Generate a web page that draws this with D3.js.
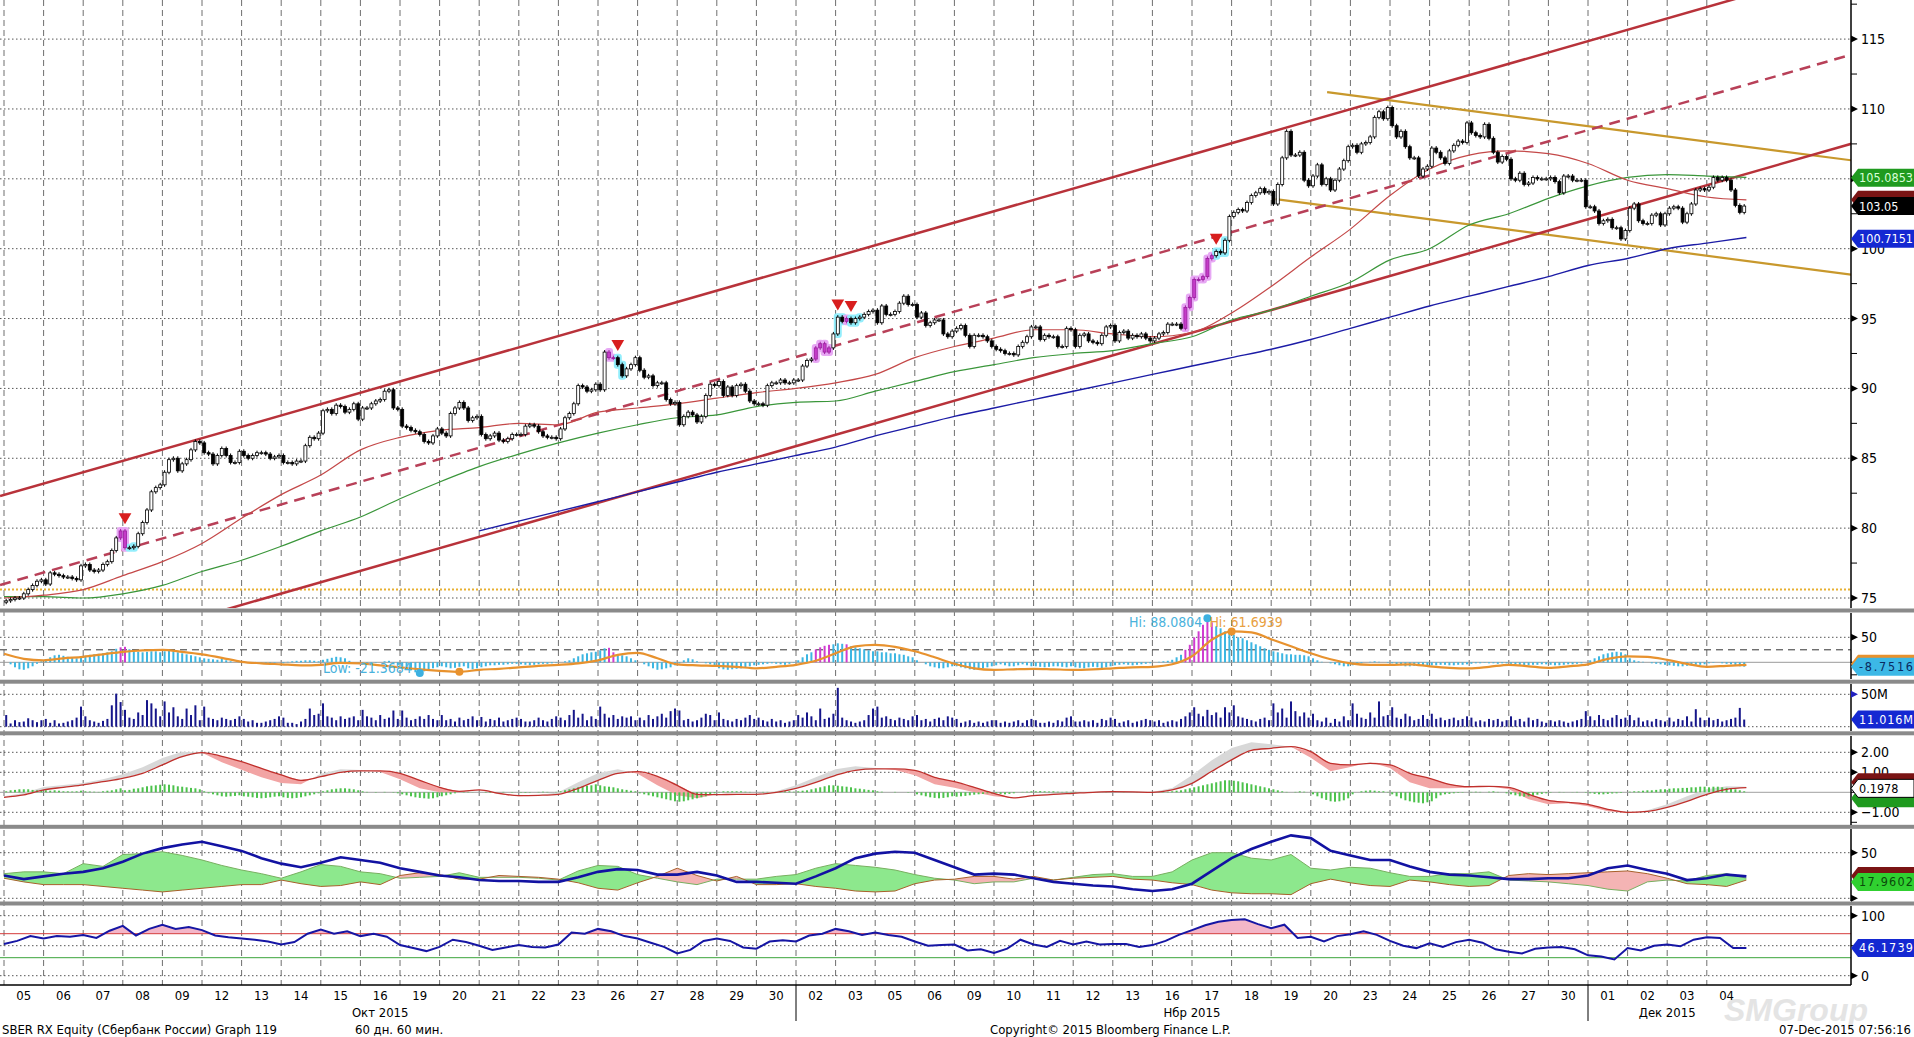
<!DOCTYPE html>
<html>
<head>
<meta charset="utf-8">
<script src="https://cdn.jsdelivr.net/npm/d3@7"></script>
<style>
  body { margin: 0; background: #fff; }
  svg { display: block; }
  text { font-family: "Liberation Sans Narrow", "DejaVu Sans Condensed", sans-serif; }
  .ax { font-family: "Liberation Sans", "DejaVu Sans", sans-serif; font-size: 14px; }
  .tag { font-family: "Liberation Sans", "DejaVu Sans", sans-serif; font-size: 12.5px; }
</style>
</head>
<body>
<svg id="chart" width="1914" height="1037"></svg>
<script>
// ---- data ----
const dayNames = ["05","06","07","08","09","12","13","14","15","16","19","20","21","22","23","26","27","28","29","30",
  "02","03","05","06","09","10","11","12","13","16","17","18","19","20","23","24","25","26","27","30",
  "01","02","03","04"];
const monthNames = ["Окт 2015", "Нбр 2015", "Дек 2015"];
const monthMid = [9.5, 30, 42];          // in trading days
const monthBreaks = [20, 40];
const footer = ["SBER RX Equity (Сбербанк России) Graph 119", "60 дн. 60 мин.", "Copyright© 2015 Bloomberg Finance L.P.", "07-Dec-2015 07:56:16"];

// hourly closes, 9 bars per trading day
const firstOpen = 74.7;
const closeByDay = [
  [74.8,74.9,75.0,75.0,75.3,75.6,75.9,76.2,76.3],
  [76.0,76.8,76.7,76.6,76.5,76.5,76.4,76.3,77.3],
  [77.4,77.0,76.9,77.0,77.4,77.6,78.4,79.3,79.8],
  [78.6,78.6,78.7,79.6,80.4,81.3,82.6,82.9,83.1],
  [84.0,84.9,85.0,84.1,84.6,84.9,85.6,86.2,86.1],
  [85.4,85.3,84.6,85.2,85.7,85.2,84.7,84.7,85.5],
  [85.2,85.0,85.2,85.4,85.4,85.3,85.0,85.1,85.2],
  [84.7,84.7,84.6,84.8,84.8,85.9,86.5,86.4,86.8],
  [88.4,88.5,88.2,88.8,88.7,88.3,88.5,88.9,87.8],
  [88.6,88.6,88.9,89.1,89.2,89.8,89.9,88.6,88.5],
  [87.3,87.2,87.0,86.9,86.7,86.2,86.1,86.6,87.1],
  [86.8,86.6,88.2,88.6,89.0,88.6,87.7,87.9,88.0],
  [86.7,86.4,86.6,86.8,86.3,86.2,86.4,86.7,86.7],
  [86.7,87.3,87.4,87.3,86.9,86.6,86.5,86.5,86.4],
  [87.1,87.9,88.2,88.9,90.2,90.1,89.8,89.9,90.3],
  [89.9,92.6,92.2,92.2,91.7,90.9,91.4,91.7,92.2],
  [91.3,90.8,90.9,90.2,90.4,90.4,89.2,88.9,89.0],
  [87.4,88.0,88.3,88.1,87.6,88.0,89.5,90.3,90.2],
  [90.5,89.5,90.1,89.5,90.2,90.3,89.8,89.1,88.9],
  [88.9,88.8,90.2,90.4,90.4,90.6,90.4,90.4,90.6],
  [90.6,91.6,92.0,92.1,92.9,93.2,92.6,92.9,93.9],
  [95.1,94.8,95.0,94.7,95.0,95.1,95.3,95.5,95.6],
  [94.7,95.9,95.3,95.3,95.5,96.1,96.6,96.0,96.0],
  [95.1,95.4,94.5,94.7,94.9,94.9,93.9,93.7,94.1],
  [94.3,94.5,93.8,93.0,93.8,93.8,93.7,93.4,93.0],
  [92.8,92.7,92.5,92.5,92.4,93.0,93.3,93.7,94.4],
  [94.4,93.5,93.8,93.7,93.7,93.0,93.0,94.3,94.2],
  [93.0,93.8,93.9,93.4,93.3,93.2,93.8,94.4,94.5],
  [93.4,94.0,94.1,93.6,93.8,93.7,93.9,93.6,93.4],
  [93.6,93.9,94.0,94.6,94.6,94.6,94.3,95.8,96.5],
  [97.8,97.8,98.0,99.3,99.5,99.8,99.7,100.6,102.3],
  [102.6,102.8,102.7,103.3,103.8,104.0,104.3,104.0,104.1],
  [103.2,104.6,106.5,108.4,106.7,106.7,106.9,104.9,104.5],
  [105.2,106.0,104.6,105.0,104.2,104.9,105.7,106.3,107.3],
  [107.4,106.9,107.5,107.6,108.0,109.4,109.8,109.3,110.1],
  [108.8,108.0,108.4,107.3,106.5,106.5,105.2,105.7,105.9],
  [107.2,106.9,106.5,106.1,107.0,107.4,107.7,107.6,109.0],
  [108.3,108.1,108.0,108.9,107.9,106.9,106.2,106.6,106.4],
  [105.0,104.9,105.4,104.6,104.7,105.1,105.0,105.0,105.0],
  [105.1,104.8,104.0,105.2,105.2,104.9,104.9,104.9,103.0],
  [103.0,102.7,101.8,102.0,102.1,101.5,101.5,100.7,101.3],
  [102.9,103.2,102.0,101.8,101.8,102.4,102.5,101.7,102.5],
  [102.9,103.0,102.9,101.9,102.5,103.2,104.2,104.3,104.2],
  [104.4,105.1,104.9,105.1,104.9,104.2,103.1,102.6,103.05]
];

// moving averages, one value per day boundary (45 points)
const maRed = [75.0,75.2,75.6,76.6,77.6,78.9,80.7,82.4,83.8,85.6,86.5,87.0,87.2,87.5,87.4,88.3,88.6,88.9,89.3,89.7,
  90.0,90.4,91.0,92.2,93.0,93.6,94.2,94.2,93.9,93.7,94.0,95.4,97.3,99.4,101.4,103.8,105.7,106.7,107.0,106.8,
  106.1,104.9,104.3,103.7,103.5];
const maGreen = [75.1,75.1,75.0,75.3,75.9,76.9,77.7,78.7,79.8,80.8,82.1,83.3,84.4,85.3,86.1,86.8,87.4,87.9,88.1,88.7,
  89.0,89.1,89.8,90.5,91.2,91.7,92.2,92.5,92.7,93.2,93.7,94.9,95.6,96.6,97.6,99.2,100.0,101.7,102.5,103.6,
  104.5,105.1,105.3,105.2,105.1];
const maBlue = [null,null,null,null,null,null,null,null,null,null,null,null,79.8,80.5,81.2,81.9,82.6,83.3,84.0,84.6,
  85.2,85.8,86.6,87.3,88.0,88.6,89.2,89.8,90.4,91.0,91.6,92.2,92.8,93.5,94.3,95.1,95.9,96.6,97.3,98.0,
  98.8,99.3,100.0,100.4,100.8];

// trend lines: [bar index, price] anchors
const channelUpper = [[-0.9, 82.3], [420, 120.27]];
const channelMid = [[-0.9, 75.93], [420, 113.9]];
const channelLower = [[-0.9, 69.55], [420, 107.52]];
const goldUpper = [[300.7, 111.2], [420, 106.32]];
const goldLower = [[289, 103.55], [420, 98.13]];
const yellowLevel = 75.6;

// highlighted bars
const purpleBars = [26, 27, 137, 138, 184, 185, 186, 187, 191, 268, 269, 270, 271, 272, 273, 274];
const cyanBars = [28, 29, 139, 140, 189, 190, 192, 193, 194, 275, 276, 277];
const signalBars = [27, 139, 189, 192, 275];

// volume (M), 9 per day
const volByDay = [
  [18,5,10,7,8,13,10,7,10],[12,6,10,5,6,8,10,14,31],[16,10,8,6,9,12,33,51,38],[26,14,12,22,18,41,36,28,16],
  [39,22,30,16,12,28,18,33,10],[31,14,12,10,14,12,10,12,16],[12,8,10,6,6,8,10,12,16],[14,6,6,4,8,12,28,18,20],
  [36,16,14,10,16,12,14,16,10],[26,16,14,10,18,12,14,25,12],[25,14,10,12,16,12,18,12,10],[18,10,12,8,14,10,12,16,10],
  [15,8,12,10,14,8,10,12,14],[12,8,8,10,14,10,8,12,16],[14,10,18,26,14,20,10,16,12],[31,20,14,18,12,16,14,16,10],
  [14,10,18,12,16,20,14,24,28],[25,10,12,8,10,14,20,18,10],[22,12,10,8,12,10,14,18,12],[14,10,8,12,8,10,6,8,10],
  [18,14,22,16,10,28,12,14,20],[60,14,10,8,6,8,10,18,28],[31,14,16,12,10,14,12,10,16],[18,10,12,8,12,14,10,16,14],
  [12,6,8,10,6,8,6,8,10],[10,6,8,6,8,10,6,10,12],[10,6,6,8,6,10,8,14,16],[8,8,10,8,10,6,12,10,14],
  [12,6,8,10,6,8,10,12,10],[8,10,6,8,10,8,12,16,22],[30,20,16,26,18,22,14,30,22],[33,16,14,12,10,8,12,14,10],
  [36,22,28,14,39,24,16,22,14],[20,10,8,14,6,12,8,16,10],[36,20,14,12,22,14,39,16,18],[30,14,12,20,16,10,12,18,12],
  [20,12,14,10,12,14,10,12,16],[14,8,10,8,12,10,12,8,10],[16,10,12,8,14,10,12,8,6],[10,8,10,8,6,8,10,12,24],
  [16,10,18,12,10,14,18,12,14],[18,10,14,8,10,8,12,10,8],[14,8,12,10,16,8,27,14,10],[14,10,12,8,10,12,14,29,11]
];

// oscillator histogram, 9 per day
const oscHistByDay = [
  [0,-4,-10,-14,-15,-12,-8,-3,2],[6,10,14,15,13,11,9,8,11],[13,15,16,17,18,20,22,27,30],[31,26,22,21,20,21,22,22,20],
  [22,24,22,20,18,16,14,12,10],[8,7,6,5,8,4,2,0,1],[0,-1,0,-1,-1,-2,-2,-1,0],[-2,1,2,3,3,4,4,3,2],
  [5,7,9,11,10,8,3,0,-2],[-2,-3,-2,-1,0,2,3,-2,-5],[-8,-12,-16,-20,-21.37,-18,-14,-12,-10],[-8,-10,-12,-11,-9,-8,-12,-14,-12],
  [-10,-8,-6,-6,-5,-5,-4,-3,-3],[-4,-5,-6,-5,-4,-3,-3,-2,-1],[0,2,4,8,12,16,18,20,21],[24,28,29,20,16,14,12,8,4],
  [0,-4,-8,-12,-15,-14,-12,-10,-6],[-2,4,8,6,2,0,-2,-4,-8],[-12,-14,-15,-14,-13,-12,-10,-8,-6],[-5,-4,-3,-2,-3,-4,-5,-3,-1],
  [4,10,16,20,26,30,33,35,36],[38,37,36,32,30,28,26,24,22],[22,20,20,18,18,16,15,12,10],[4,0,-4,-8,-10,-12,-12,-10,-8],
  [-8,-10,-12,-14,-15,-14,-12,-10,-8],[-6,-4,-6,-8,-8,-6,-4,-6,-8],[-8,-9,-10,-9,-8,-8,-9,-10,-8],[-10,-11,-12,-10,-9,-10,-12,-10,-8],
  [-6,-5,-4,-5,-6,-5,-4,-3,-2],[0,1,2,3,5,10,15,25,35],[50,62,75,88.08,80,72,68,62,58],[55,50,48,44,40,36,32,28,25],
  [22,20,18,16,16,15,15,14,12],[8,4,1,0,-2,-4,-6,-8,-8],[-6,-4,-2,0,1,2,1,0,-1],[-2,-4,-6,-8,-8,-7,-6,-6,-7],
  [-6,-6,-5,-5,-6,-6,-5,-5,-4],[-3,-2,-2,-1,-2,-2,-3,-2,-2],[-3,-4,-5,-6,-6,-5,-5,-4,-4],[-5,-6,-6,-5,-4,-4,-3,-2,0],
  [4,8,12,16,18,20,21,20,16],[8,4,2,1,0,-2,-3,-4,-5],[-6,-7,-8,-8,-7,-6,-5,-5,-4],[-2,-1,0,-2,-3,-4,-6,-8,-8.75]
];
// oscillator signal line, 2 per day (89 points)
const oscLine = [17,7,4,8,11,16,21,24,25,21,16,9,1,-2,-4,-6,-5,-1,-2,-6,-10,-14,-17,-19,-15,-13,-10,-7,-5,-2,
  4,15,19,8,-4,-6,-7,-9,-12,-9,-5,3,18,32,35,31,22,10,-3,-12,-15,-14,-13,-14,-15,-14,-12,-10,-9,-4,
  12,45,61.69,60,46,32,18,6,-2,-5,-5,-4,-8,-11,-12,-9,-5,-8,-11,-8,-4,7,12,11,5,-3,-9,-7,-5];

// MACD: histogram 9 per day, lines 2 per day
const macdHistByDay = [
  [0.05,0.1,0.12,0.15,0.15,0.15,0.12,0.1,0.1],[0.1,0.08,0.1,0.08,0.05,0.05,0.04,0.05,0.08],
  [0.05,0.04,0.03,0.02,0.05,0.08,0.1,0.15,0.2],[0.1,0.12,0.18,0.2,0.25,0.3,0.33,0.35,0.38],
  [0.4,0.38,0.35,0.3,0.28,0.25,0.22,0.2,0.15],[0.05,-0.05,-0.1,-0.15,-0.2,-0.22,-0.2,-0.18,-0.15],
  [-0.2,-0.22,-0.25,-0.28,-0.3,-0.28,-0.25,-0.22,-0.2],[-0.25,-0.28,-0.3,-0.28,-0.25,-0.2,-0.15,-0.1,-0.05],
  [0.05,0.1,0.15,0.18,0.2,0.2,0.18,0.15,0.1],[0.05,0.02,0,-0.02,0,0.02,0,-0.02,-0.05],
  [-0.1,-0.15,-0.2,-0.25,-0.28,-0.3,-0.32,-0.3,-0.25],[-0.2,-0.15,-0.1,-0.05,0,0.02,0.02,0.01,0],
  [0,-0.02,-0.03,-0.02,0,0.02,0,-0.02,0],[-0.02,-0.03,-0.02,0,0.02,0.03,0.02,0,0.02],
  [0.05,0.1,0.15,0.2,0.25,0.3,0.33,0.35,0.4],[0.35,0.3,0.28,0.25,0.2,0.15,0.12,0.08,0.05],
  [-0.05,-0.1,-0.15,-0.2,-0.25,-0.3,-0.35,-0.4,-0.45],[-0.47,-0.45,-0.4,-0.35,-0.3,-0.25,-0.2,-0.1,-0.05],
  [0.02,0.05,0.05,0.05,0.05,0.05,0.03,0.02,0],[0,0.02,0.02,0,0.02,0.05,0.05,0.05,0.03],
  [0.05,0.08,0.1,0.15,0.2,0.25,0.3,0.35,0.35],[0.33,0.3,0.28,0.25,0.2,0.18,0.15,0.12,0.1],
  [0.05,0.03,0,0,0.02,0,0,-0.02,0],[-0.1,-0.15,-0.2,-0.25,-0.28,-0.3,-0.28,-0.25,-0.2],
  [-0.22,-0.2,-0.18,-0.15,-0.12,-0.1,-0.08,-0.05,-0.05],[-0.05,-0.08,-0.1,-0.08,-0.05,0,0.02,0.03,0.05],
  [0.05,0.06,0.05,0.04,0.05,0.03,0.02,0.03,0.02],[0.02,0.01,0,0.01,0,-0.01,0,0.01,0],
  [0,0,0.01,0,0,-0.01,0,0,0.01],[0,0.01,0.02,0.03,0.05,0.08,0.1,0.15,0.2],
  [0.25,0.3,0.35,0.4,0.45,0.5,0.55,0.6,0.6],[0.58,0.55,0.5,0.45,0.4,0.35,0.3,0.25,0.2],
  [0.15,0.1,0.05,0.02,0,0.02,0.05,0.03,0],[-0.1,-0.2,-0.3,-0.38,-0.45,-0.47,-0.45,-0.4,-0.3],
  [-0.1,0,0.05,0.08,0.1,0.08,0.05,0.05,0.02],[-0.1,-0.2,-0.3,-0.4,-0.45,-0.5,-0.52,-0.55,-0.5],
  [-0.45,-0.3,-0.15,-0.1,-0.08,-0.05,-0.03,-0.02,0],[0.02,0.03,0.02,0,0.03,0.05,0.02,0,-0.05],
  [-0.1,-0.15,-0.2,-0.22,-0.2,-0.18,-0.12,-0.08,-0.05],[-0.02,0,0.02,0.01,0,0.01,0.02,0,-0.02],
  [-0.05,-0.08,-0.1,-0.1,-0.08,-0.06,-0.05,-0.03,0],[0.03,0.05,0.05,0.08,0.1,0.1,0.12,0.15,0.15],
  [0.18,0.2,0.2,0.22,0.22,0.25,0.25,0.28,0.28],[0.25,0.28,0.28,0.25,0.22,0.2,0.15,0.1,0.05]
];
const macdSignal = [-0.25,-0.13,0.12,0.25,0.37,0.53,0.7,0.95,1.37,1.78,1.98,1.8,1.53,1.2,0.87,0.6,0.78,1.0,1.07,1.07,
  0.95,0.6,0.25,0.05,0.12,-0.05,-0.17,-0.15,-0.1,0.2,0.6,0.95,1.03,0.8,0.35,-0.1,-0.12,-0.1,-0.1,0.0,
  0.2,0.5,0.85,1.1,1.17,1.17,1.1,0.75,0.53,0.25,-0.05,-0.28,-0.17,-0.1,-0.05,0.0,0.03,0.02,0.0,0.12,
  0.45,1.05,1.62,2.1,2.2,2.28,2.03,1.45,1.37,1.45,1.37,0.95,0.7,0.4,0.28,0.3,0.25,-0.1,-0.4,-0.5,
  -0.6,-0.85,-1.0,-0.95,-0.75,-0.45,-0.1,0.15,0.23];
const macdLine = [-0.2,-0.03,0.27,0.37,0.47,0.65,0.9,1.25,1.72,2.03,1.98,1.5,1.13,0.75,0.47,0.4,0.93,1.15,1.12,1.02,
  0.65,0.2,0.0,0.0,0.12,-0.1,-0.2,-0.15,0.0,0.5,0.95,1.15,0.93,0.35,-0.15,-0.3,-0.1,-0.1,-0.08,0.05,
  0.35,0.75,1.15,1.3,1.22,1.12,0.85,0.4,0.23,0.0,-0.2,-0.28,-0.12,-0.05,-0.03,0.0,0.03,0.02,0.02,0.22,
  0.85,1.6,2.22,2.5,2.4,2.28,1.73,1.05,1.27,1.5,1.22,0.5,0.2,0.2,0.23,0.3,0.15,-0.35,-0.6,-0.55,
  -0.7,-0.95,-1.05,-0.9,-0.6,-0.2,0.15,0.3,0.28];

// DMI, 2 per day
const adx = [25,21,24,27,29,33,40,49,55,59,62,57,52,44,38,34,39,45,42,39,33,29,25,23,20,
  19,19,18,18,23,29,32,31,26,26,29,25,18,18,17,16,24,33,44,49,51,50,42,34,
  26,27,26,22,18,16,14,13,10,8,10,16,30,44,54,62,69,66,52,47,42,42,35,
  29,26,25,23,21,21,22,22,25,33,36,31,27,20,22,26,24];
const pdi = [27,29,29,27,38,35,48,49,51,47,42,36,31,27,22,29,37,35,29,27,22,23,24,28,23,
  23,23,22,20,30,36,35,26,22,18,15,21,21,21,24,26,33,38,36,34,31,26,22,20,
  16,18,18,22,20,23,26,27,24,24,29,42,50,50,44,42,48,33,31,34,33,28,24,
  24,27,27,29,20,19,18,16,14,10,8,18,20,19,25,27,22];
const mdi = [22,18,15,15,15,13,11,9,7,9,11,13,15,15,20,16,13,14,18,15,25,28,26,21,21,
  25,24,23,21,17,11,9,17,24,33,25,19,24,15,15,16,13,11,8,7,8,16,20,21,
  24,24,21,24,20,22,23,24,21,20,17,15,9,6,5,5,4,16,21,17,14,13,20,
  18,15,13,14,25,27,26,27,28,29,30,27,22,16,15,13,20];

// RSI, 3 per day (133 points)
const rsi = [53,58,66,62,66,65,68,63,75,83,67,78,85,78,81,76,67,64,62,60,57,52,56,70,77,70,74,66,70,65,51,46,41,48,60,56,50,
  43,47,51,48,47,52,72,70,78,74,66,62,55,48,37,43,58,62,58,47,45,57,59,57,67,70,78,74,68,72,68,65,57,50,51,
  52,42,44,38,45,60,52,48,58,52,57,52,53,53,48,51,58,68,76,84,90,93,94,86,79,85,63,65,57,66,69,74,68,58,50,46,
  54,48,56,60,55,44,40,37,45,47,48,44,34,32,27,46,42,50,52,49,60,64,63,46,46];

// right-hand value tags: panel, value, label, style
const tags = [
  ["main", 105.0853, "105.0853", "green"], ["main", 103.5, "", "darkred"], ["main", 103.05, "103.05", "black"],
  ["main", 100.7151, "100.7151", "blue"],
  ["osc", -3, "", "orange"], ["osc", -8.7516, "-8.7516", "cyan"],
  ["vol", 11.016, "11.016M", "blue"],
  ["macd", -0.3, "", "green"], ["macd", 0.5, "", "darkred"], ["macd", 0.1978, "0.1978", "white"],
  ["dmi", 24.5, "", "darkred"], ["dmi", 17.9602, "17.9602", "lime"],
  ["rsi", 46.1739, "46.1739", "blue"]
];
const oscHiText = "Hi: 88.0804", oscLineHiText = "Hi: 61.6939", oscLowText = "Low: -21.3684";

// ---- layout ----
const W = 1914, AXIS_X = 1851;
const svg = d3.select("#chart");
const defs = svg.append("defs");

const closes = closeByDay.flat();
const volume = volByDay.flat();
const oscHist = oscHistByDay.flat();
const macdHist = macdHistByDay.flat();

const x = d3.scaleLinear().domain([0, 396]).range([4, 4 + 396 * 4.4]);
const barX = k => x(k + 0.5);

const yMain = d3.scaleLinear().domain([75, 115]).range([598, 39.1]);
const yOsc = d3.scaleLinear().domain([0, 50]).range([662.3, 637.3]);
const yVol = d3.scaleLinear().domain([0, 50]).range([726.7, 694.3]);
const yMacd = d3.scaleLinear().domain([0, 2]).range([792.3, 752.3]);
const yDmi = d3.scaleLinear().domain([0, 50]).range([898.3, 852.7]);
const yRsi = d3.scaleLinear().domain([0, 100]).range([975.7, 915.7]);

const panels = {
  main: { top: 0, bottom: 608, y: yMain },
  osc: { top: 613, bottom: 679, y: yOsc },
  vol: { top: 684, bottom: 731, y: yVol },
  macd: { top: 736, bottom: 825, y: yMacd },
  dmi: { top: 829, bottom: 901, y: yDmi },
  rsi: { top: 906, bottom: 985, y: yRsi }
};

// watermark sits underneath everything
svg.append("text").attr("x", 1724).attr("y", 1021)
  .style("font-family", "Liberation Sans, sans-serif").style("font-size", "32px").style("font-style", "italic")
  .style("font-weight", "bold").attr("fill", "#e4e4e4").text("SMGroup");

// vertical day grid
const gridG = svg.append("g");
d3.range(0, 44).forEach(i => {
  gridG.append("line").attr("x1", x(9 * i)).attr("x2", x(9 * i)).attr("y1", 0).attr("y2", 985)
    .attr("stroke", "#6e6e6e").attr("stroke-dasharray", "6,4");
});

const layers = {};
Object.entries(panels).forEach(([name, p]) => {
  defs.append("clipPath").attr("id", "clip-" + name)
    .append("rect").attr("x", 0).attr("y", p.top).attr("width", AXIS_X).attr("height", p.bottom - p.top);
  layers[name] = svg.append("g").attr("clip-path", `url(#clip-${name})`);
});

function hLine(g, y, stroke, dash, width) {
  g.append("line").attr("x1", 0).attr("x2", AXIS_X).attr("y1", y).attr("y2", y)
    .attr("stroke", stroke).attr("stroke-width", width || 1).attr("stroke-dasharray", dash || null);
}
const DOT = "1.5,2.5";

// ---- main panel ----
const gm = layers.main;
d3.range(75, 116, 5).forEach(v => hLine(gm, yMain(v), "#555", DOT));
hLine(gm, yMain(yellowLevel), "#e8b030", "2,2", 2);

const trend = d3.line().x(d => x(d[0])).y(d => yMain(d[1]));
gm.append("path").attr("d", trend(goldUpper)).attr("stroke", "#c8982c").attr("stroke-width", 2.2).attr("fill", "none");
gm.append("path").attr("d", trend(goldLower)).attr("stroke", "#c8982c").attr("stroke-width", 2.2).attr("fill", "none");
gm.append("path").attr("d", trend(channelUpper)).attr("stroke", "#b8323a").attr("stroke-width", 2.5).attr("fill", "none");
gm.append("path").attr("d", trend(channelLower)).attr("stroke", "#b8323a").attr("stroke-width", 2.5).attr("fill", "none");
gm.append("path").attr("d", trend(channelMid)).attr("stroke", "#b84058").attr("stroke-width", 2.5)
  .attr("stroke-dasharray", "11,7").attr("fill", "none");

const maLine = d3.line().defined(d => d != null).x((d, i) => x(9 * i)).y(d => yMain(d)).curve(d3.curveMonotoneX);
gm.append("path").attr("d", maLine(maBlue)).attr("stroke", "#1c1ca6").attr("stroke-width", 1.4).attr("fill", "none");
gm.append("path").attr("d", maLine(maGreen)).attr("stroke", "#3a963a").attr("stroke-width", 1.2).attr("fill", "none");
gm.append("path").attr("d", maLine(maRed)).attr("stroke", "#c44848").attr("stroke-width", 1.2).attr("fill", "none");

const bars = closes.map((c, k) => {
  const o = k ? closes[k - 1] : firstOpen;
  return { k, o, c, hi: Math.max(o, c), lo: Math.min(o, c) };
});
const purpleSet = new Set(purpleBars), cyanSet = new Set(cyanBars);

// glow behind highlighted candles
gm.selectAll("rect.glow").data(bars.filter(b => purpleSet.has(b.k) || cyanSet.has(b.k))).join("rect")
  .attr("x", b => barX(b.k) - 4).attr("width", 8)
  .attr("y", b => yMain(b.hi) - 4).attr("height", b => yMain(b.lo) - yMain(b.hi) + 8)
  .attr("rx", 3).attr("fill", b => purpleSet.has(b.k) ? "#e7a8f4" : "#93eefc");

gm.selectAll("line.wick").data(bars).join("line")
  .attr("x1", b => barX(b.k)).attr("x2", b => barX(b.k))
  .attr("y1", b => yMain(b.hi) - 2).attr("y2", b => yMain(b.lo) + 2)
  .attr("stroke", b => purpleSet.has(b.k) ? "#a020a0" : "#000");
gm.selectAll("rect.body").data(bars).join("rect")
  .attr("x", b => barX(b.k) - 1.5).attr("width", 3)
  .attr("y", b => yMain(b.hi)).attr("height", b => Math.max(1, yMain(b.lo) - yMain(b.hi)))
  .attr("fill", b => purpleSet.has(b.k) ? "#c43cc8" : (b.c >= b.o ? "#fff" : "#000"))
  .attr("stroke", b => purpleSet.has(b.k) ? "#9a1e9e" : "#000").attr("stroke-width", 0.8);

gm.selectAll("path.sig").data(signalBars).join("path")
  .attr("d", d3.symbol(d3.symbolTriangle, 70))
  .attr("transform", k => `translate(${barX(k)},${yMain(bars[k].hi) - 14}) rotate(180)`)
  .attr("fill", "#d81e1e");

// ---- oscillator panel ----
const go = layers.osc;
hLine(go, yOsc(50), "#555", DOT);
hLine(go, yOsc(25), "#333", "7,5");
hLine(go, yOsc(0), "#9a9a9a", null);
go.selectAll("rect").data(oscHist).join("rect")
  .attr("x", (d, k) => barX(k) - 1).attr("width", 2)
  .attr("y", d => Math.min(yOsc(0), yOsc(d))).attr("height", d => Math.abs(yOsc(d) - yOsc(0)))
  .attr("fill", (d, k) => purpleSet.has(k) ? "#d03cd0" : "#3cb6e2");
const halfDay = d3.line().x((d, j) => x(4.5 * j)).curve(d3.curveMonotoneX);
go.append("path").attr("d", halfDay.y(d => yOsc(d))(oscLine)).attr("stroke", "#e8922e").attr("stroke-width", 2.2).attr("fill", "none");

const hiK = d3.maxIndex(oscHist), loK = d3.minIndex(oscHist);
const hiJ = d3.maxIndex(oscLine), loJ = d3.minIndex(oscLine);
const annot = svg.append("g").attr("class", "ax").style("font-size", "14px");
annot.append("circle").attr("cx", barX(hiK)).attr("cy", yOsc(oscHist[hiK])).attr("r", 4).attr("fill", "#3cb0e0");
annot.append("text").attr("x", barX(hiK) - 5).attr("y", yOsc(oscHist[hiK]) + 9).attr("text-anchor", "end")
  .attr("fill", "#4ab2dc").text(oscHiText);
annot.append("circle").attr("cx", x(4.5 * hiJ)).attr("cy", yOsc(oscLine[hiJ])).attr("r", 4).attr("fill", "#e8922e");
annot.append("text").attr("x", barX(hiK) + 2).attr("y", yOsc(oscHist[hiK]) + 9)
  .attr("fill", "#e8a040").text(oscLineHiText);
annot.append("circle").attr("cx", barX(loK)).attr("cy", yOsc(oscHist[loK])).attr("r", 4).attr("fill", "#3cb0e0");
annot.append("text").attr("x", barX(loK) - 8).attr("y", yOsc(oscHist[loK]))
  .attr("text-anchor", "end").attr("fill", "#4ab2dc").text(oscLowText);
annot.append("circle").attr("cx", x(4.5 * loJ)).attr("cy", yOsc(oscLine[loJ])).attr("r", 4).attr("fill", "#e8922e");

// ---- volume ----
const gv = layers.vol;
hLine(gv, yVol(50), "#555", DOT);
hLine(gv, yVol(0), "#555", DOT);
gv.selectAll("rect").data(volume).join("rect")
  .attr("x", (d, k) => barX(k) - 1).attr("width", 2)
  .attr("y", d => yVol(d)).attr("height", d => yVol(0) - yVol(d)).attr("fill", "#16168a");

// ---- difference fill helper ----
function diffFill(g, pts, ya, yb, top, bottom, colA, colB, id) {
  const upB = d3.area().x(d => d.x).y0(top).y1(d => yb(d.b));
  const upA = d3.area().x(d => d.x).y0(top).y1(d => ya(d.a));
  defs.append("clipPath").attr("id", id + "B").append("path").attr("d", upB(pts));
  defs.append("clipPath").attr("id", id + "A").append("path").attr("d", upA(pts));
  g.append("path").attr("d", d3.area().x(d => d.x).y0(bottom).y1(d => ya(d.a))(pts))
    .attr("clip-path", `url(#${id}B)`).attr("fill", colA);
  g.append("path").attr("d", d3.area().x(d => d.x).y0(bottom).y1(d => yb(d.b))(pts))
    .attr("clip-path", `url(#${id}A)`).attr("fill", colB);
}

// ---- MACD ----
const gc = layers.macd;
[2, 1, -1].forEach(v => hLine(gc, yMacd(v), "#555", DOT));
hLine(gc, yMacd(0), "#a0a0a0", null);
diffFill(gc, macdLine.map((a, j) => ({ x: x(4.5 * j), a, b: macdSignal[j] })), yMacd, yMacd,
  panels.macd.top, panels.macd.bottom, "#d8d8d8", "#f2a4a4", "macdfill");
gc.selectAll("rect").data(macdHist).join("rect")
  .attr("x", (d, k) => barX(k) - 1).attr("width", 2)
  .attr("y", d => Math.min(yMacd(0), yMacd(d))).attr("height", d => Math.abs(yMacd(d) - yMacd(0)))
  .attr("fill", "#4cc24c");
gc.append("path").attr("d", halfDay.y(d => yMacd(d))(macdSignal)).attr("stroke", "#c0302c").attr("stroke-width", 1.3).attr("fill", "none");

// ---- DMI ----
const gd = layers.dmi;
hLine(gd, yDmi(50), "#555", DOT);
hLine(gd, yDmi(0), "#555", DOT);
diffFill(gd, pdi.map((a, j) => ({ x: x(4.5 * j), a, b: mdi[j] })), yDmi, yDmi,
  panels.dmi.top, panels.dmi.bottom, "#8de88d", "#f4b4b4", "dmifill");
const lin = d3.line().x((d, j) => x(4.5 * j));
gd.append("path").attr("d", lin.y(d => yDmi(d))(pdi)).attr("stroke", "#78b060").attr("stroke-width", 1).attr("fill", "none");
gd.append("path").attr("d", lin.y(d => yDmi(d))(mdi)).attr("stroke", "#a8602a").attr("stroke-width", 1).attr("fill", "none");
gd.append("path").attr("d", lin.y(d => yDmi(d))(adx)).attr("stroke", "#1212a2").attr("stroke-width", 2.6).attr("fill", "none");

// ---- RSI ----
const gr = layers.rsi;
[100, 50, 0].forEach(v => hLine(gr, yRsi(v), "#555", DOT));
defs.append("clipPath").attr("id", "rsiHigh").append("rect")
  .attr("x", 0).attr("y", panels.rsi.top).attr("width", AXIS_X).attr("height", yRsi(70) - panels.rsi.top);
const rsiX = (d, t) => x(3 * t);
gr.append("path").attr("d", d3.area().x(rsiX).y0(yRsi(70)).y1(d => yRsi(d))(rsi))
  .attr("clip-path", "url(#rsiHigh)").attr("fill", "#f3b6c8");
hLine(gr, yRsi(70), "#d43c3c", null);
hLine(gr, yRsi(30), "#3aa43a", null);
gr.append("path").attr("d", d3.line().x(rsiX).y(d => yRsi(d))(rsi)).attr("stroke", "#1616a4").attr("stroke-width", 2).attr("fill", "none");

// ---- separators ----
[610.5, 681.7, 733.3, 826.8, 903.5].forEach(y => {
  svg.append("rect").attr("x", 0).attr("y", y - 2).attr("width", W).attr("height", 4).attr("fill", "#8a8a8a");
});
svg.append("line").attr("x1", 0).attr("x2", AXIS_X).attr("y1", 985).attr("y2", 985).attr("stroke", "#000").attr("stroke-width", 1.5);

// ---- right axis ----
const ax = svg.append("g").attr("class", "ax");
Object.values(panels).forEach(p => {
  ax.append("line").attr("x1", AXIS_X).attr("x2", AXIS_X).attr("y1", p.top).attr("y2", p.bottom)
    .attr("stroke", "#000").attr("stroke-width", 1.5);
});
function tickMark(y, color) {
  ax.append("path").attr("d", `M${AXIS_X},${y - 3.5}L${AXIS_X + 7},${y}L${AXIS_X},${y + 3.5}Z`).attr("fill", color || "#000");
}
function minor(y) {
  ax.append("line").attr("x1", AXIS_X).attr("x2", AXIS_X + 6).attr("y1", y).attr("y2", y).attr("stroke", "#000");
}
function tickLabel(y, t) {
  ax.append("text").attr("x", AXIS_X + 10).attr("y", y).attr("dy", "0.36em").text(t);
}
d3.range(75, 116, 5).forEach(v => { tickMark(yMain(v)); tickLabel(yMain(v), v); });
d3.range(77.5, 118, 5).forEach(v => minor(yMain(v)));
tickMark(yOsc(50)); tickLabel(yOsc(50), "50"); minor(yOsc(0)); minor(yOsc(-25));
tickMark(yVol(50), "#2020c0"); tickLabel(yVol(50), "50M");
[2, 1, -1].forEach(v => { tickMark(yMacd(v)); tickLabel(yMacd(v), d3.format(".2f")(v)); });
minor(yMacd(0)); minor(yMacd(-1.5));
tickMark(yDmi(50)); tickLabel(yDmi(50), "50"); tickMark(yDmi(0));
tickMark(yRsi(100)); tickLabel(yRsi(100), "100"); tickMark(yRsi(0)); tickLabel(yRsi(0), "0"); minor(yRsi(50));

// ---- value tags ----
const tagStyle = {
  green: ["#1f9a1f", "#d8ffd8"], darkred: ["#7a1414", "#fff"], black: ["#000", "#fff"], blue: ["#1428d2", "#fff"],
  orange: ["#e8922e", "#000"], cyan: ["#3cb8e6", "#0a2a60"], white: ["#fff", "#000"], lime: ["#30d030", "#0a4a0a"]
};
const tg = svg.append("g").attr("class", "tag");
tags.forEach(([panel, v, label, style]) => {
  const y = panels[panel].y(v), h = 18, tip = 7;
  const [bg, fg] = tagStyle[style];
  tg.append("path")
    .attr("d", `M${AXIS_X},${y}L${AXIS_X + tip},${y - h / 2}L${W},${y - h / 2}L${W},${y + h / 2}L${AXIS_X + tip},${y + h / 2}Z`)
    .attr("fill", bg).attr("stroke", style === "white" ? "#000" : "none");
  if (label) tg.append("text").attr("x", AXIS_X + 8).attr("y", y).attr("dy", "0.36em")
    .attr("textLength", label.length > 6 ? 54 : null).attr("fill", fg).text(label);
});

// ---- time axis ----
const tx = svg.append("g").style("font-size", "13px");
dayNames.forEach((d, i) => {
  tx.append("text").attr("x", x(9 * i + 4.5)).attr("y", 1000).attr("text-anchor", "middle").text(d);
});
monthNames.forEach((m, i) => {
  tx.append("text").attr("x", x(9 * monthMid[i])).attr("y", 1017).attr("text-anchor", "middle").text(m);
});
monthBreaks.forEach(d => {
  tx.append("line").attr("x1", x(9 * d)).attr("x2", x(9 * d)).attr("y1", 985).attr("y2", 1021).attr("stroke", "#000");
});
tx.append("text").attr("x", 2).attr("y", 1034).text(footer[0]);
tx.append("text").attr("x", 355).attr("y", 1034).text(footer[1]);
tx.append("text").attr("x", 990).attr("y", 1034).text(footer[2]);
tx.append("text").attr("x", 1911).attr("y", 1034).attr("text-anchor", "end").text(footer[3]);
</script>
</body>
</html>
